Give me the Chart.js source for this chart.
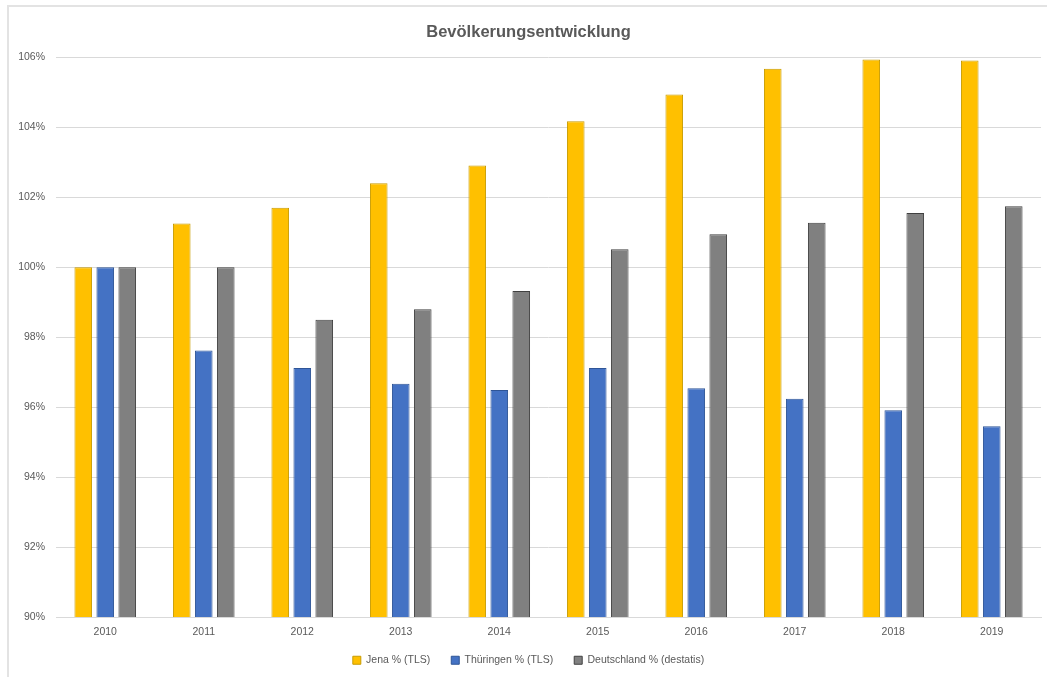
<!DOCTYPE html>
<html>
<head>
<meta charset="utf-8">
<script src="https://cdn.jsdelivr.net/npm/chart.js@4"></script>
<style>
  html, body { margin: 0; padding: 0; background: #fff; overflow: hidden; width: 1047px; height: 677px; }
  #frame { position: absolute; left: 7px; top: 5px; width: 1100px; height: 700px;
           border-left: 2px solid #e3e3e3; border-top: 2px solid #e3e3e3; }
  #wrap { position: absolute; left: 0; top: 0; width: 1060px; height: 677px; }
</style>
</head>
<body>
<div id="frame"></div>
<div id="wrap"><canvas id="c" width="1060" height="677"></canvas></div>
<script>
const categories = ["2010","2011","2012","2013","2014","2015","2016","2017","2018","2019"];
const jena = [100.00, 101.25, 101.70, 102.40, 102.91, 104.17, 104.94, 105.67, 105.94, 105.91];
const thueringen = [100.00, 97.62, 97.12, 96.67, 96.49, 97.12, 96.54, 96.24, 95.91, 95.45];
const deutschland = [100.00, 100.00, 98.50, 98.80, 99.32, 100.51, 100.94, 101.27, 101.55, 101.74];
const seriesLabels = ["Jena % (TLS)", "Thüringen % (TLS)", "Deutschland % (destatis)"];
const yTicks = [90, 92, 94, 96, 98, 100, 102, 104, 106];

const FONT = "'Liberation Sans', Arial, sans-serif";
const GREY = "#595959";

new Chart(document.getElementById('c'), {
  type: 'bar',
  data: {
    labels: categories,
    datasets: [
      { label: seriesLabels[0], data: jena, backgroundColor: '#FFC000', borderColor: '#C89B00', borderWidth: 1 },
      { label: seriesLabels[1], data: thueringen, backgroundColor: '#4472C4', borderColor: '#2F5597', borderWidth: 1 },
      { label: seriesLabels[2], data: deutschland, backgroundColor: '#808080', borderColor: '#404040', borderWidth: 1 }
    ]
  },
  options: {
    responsive: false,
    animation: false,
    devicePixelRatio: 1,
    layout: { padding: { left: 16, right: 19, top: 0, bottom: 3 } },
    datasets: { bar: { categoryPercentage: 0.67, barPercentage: 0.80 } },
    scales: {
      x: {
        grid: { display: false, drawTicks: false },
        border: { display: true, color: '#d9d9d9', width: 1 },
        ticks: { color: GREY, font: { family: FONT, size: 10.5 }, padding: 9 },
        afterFit: s => { s.height = 22; }
      },
      y: {
        min: 90, max: 106,
        afterBuildTicks: s => { s.ticks = yTicks.map(v => ({ value: v })); },
        grid: { color: '#d9d9d9', drawTicks: false, lineWidth: 1 },
        border: { display: false },
        ticks: { color: GREY, font: { family: FONT, size: 10.5 }, padding: 11, callback: v => v + '%' },
        afterFit: s => { s.width = 40; }
      }
    },
    plugins: {
      title: {
        display: true,
        text: 'Bevölkerungsentwicklung',
        color: GREY,
        font: { family: FONT, size: 16.5, weight: 'bold' },
        padding: { top: 23, bottom: 14.5 }
      },
      legend: {
        position: 'bottom',
        maxHeight: 35,
        title: { display: true, text: '', font: { size: 1, lineHeight: 1 }, padding: { top: -6, bottom: 0 } },
        labels: {
          color: GREY,
          font: { family: FONT, size: 10.5 },
          boxWidth: 8, boxHeight: 8,
          padding: 21
        }
      },
      tooltip: { enabled: false }
    }
  }
});
</script>
</body>
</html>
